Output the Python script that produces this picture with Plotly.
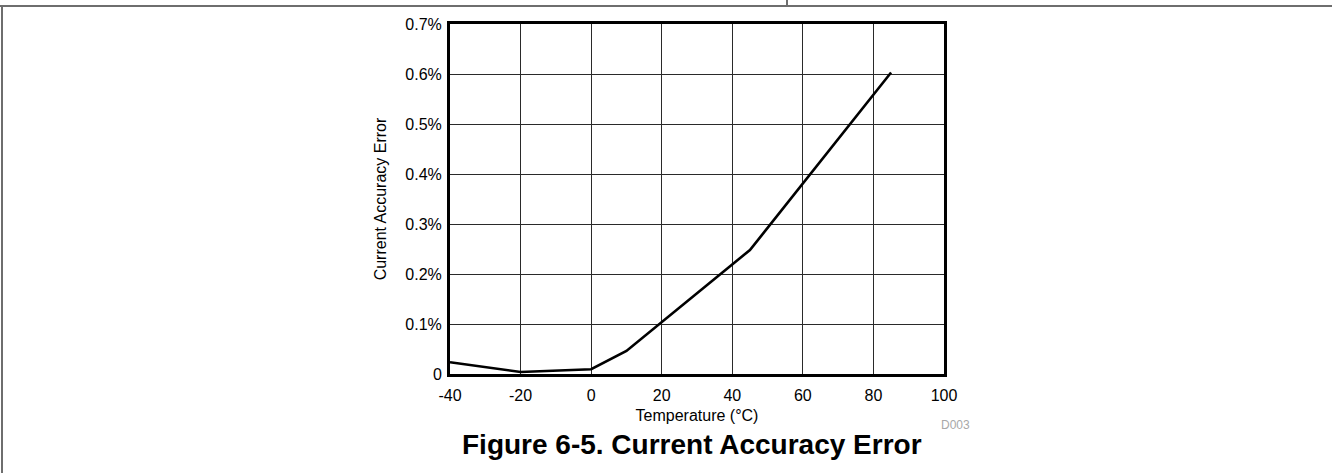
import plotly.graph_objects as go

# Data
temperature_c = [-40, -20, 0, 10, 45, 85]
accuracy_error_pct = [0.0234, 0.004, 0.0095, 0.046, 0.248, 0.603]

x_tick_vals = [-40, -20, 0, 20, 40, 60, 80, 100]
x_tick_text = ["-40", "-20", "0", "20", "40", "60", "80", "100"]
y_tick_vals = [0, 0.1, 0.2, 0.3, 0.4, 0.5, 0.6, 0.7]
y_tick_text = ["0", "0.1%", "0.2%", "0.3%", "0.4%", "0.5%", "0.6%", "0.7%"]

W, H = 1332, 473
L, R, T, B = 450, 944, 24, 374


def px_x(p):
    return (p - L) / (R - L)


def px_y(p):
    return (B - p) / (B - T)


FONT = "Liberation Sans, Arial, sans-serif"

fig = go.Figure()
fig.add_trace(go.Scatter(
    x=temperature_c, y=accuracy_error_pct, mode="lines",
    line=dict(color="black", width=2.6), showlegend=False, hoverinfo="skip",
))

axis_common = dict(
    showline=True, linecolor="black", linewidth=3, mirror=True,
    showgrid=True, gridcolor="#2a2a2a", gridwidth=1,
    zeroline=False, ticks="", tickfont=dict(family=FONT, size=16, color="black"),
)

fig.update_xaxes(
    range=[-40, 100], tickvals=x_tick_vals, ticktext=x_tick_text,
    ticklabelstandoff=5,
    title=dict(text="Temperature (°C)", font=dict(family=FONT, size=16, color="black"), standoff=7),
    **axis_common,
)
fig.update_yaxes(
    range=[0, 0.7], tickvals=y_tick_vals, ticktext=y_tick_text,
    ticklabelstandoff=2,
    title=dict(text="Current Accuracy Error", font=dict(family=FONT, size=16, color="black"), standoff=15),
    **axis_common,
)

shape_line = dict(color="#6e6e6e", width=2)
fig.update_layout(
    width=W, height=H, autosize=False,
    margin=dict(l=L, r=W - R, t=T, b=H - B, pad=0),
    paper_bgcolor="white", plot_bgcolor="white",
    shapes=[
        dict(type="line", xref="paper", yref="paper", x0=px_x(0), x1=px_x(W), y0=px_y(6), y1=px_y(6), line=shape_line),
        dict(type="line", xref="paper", yref="paper", x0=px_x(2), x1=px_x(2), y0=px_y(6), y1=px_y(H), line=shape_line),
        dict(type="line", xref="paper", yref="paper", x0=px_x(787), x1=px_x(787), y0=px_y(0), y1=px_y(6), line=shape_line),
    ],
    annotations=[
        dict(text="D003", xref="paper", yref="paper", x=px_x(972), y=px_y(425),
             xanchor="right", yanchor="middle", showarrow=False,
             font=dict(family=FONT, size=12, color="#a8a8a8")),
        dict(text="<b>Figure 6-5. Current Accuracy Error</b>", xref="paper", yref="paper",
             x=px_x(692), y=px_y(444), xanchor="center", yanchor="middle", showarrow=False,
             font=dict(family=FONT, size=28, color="black")),
    ],
)

fig.write_html(
    "out.html",
    config={"displayModeBar": False},
    post_script="document.body.style.margin='0';document.body.style.overflow='hidden';",
)
